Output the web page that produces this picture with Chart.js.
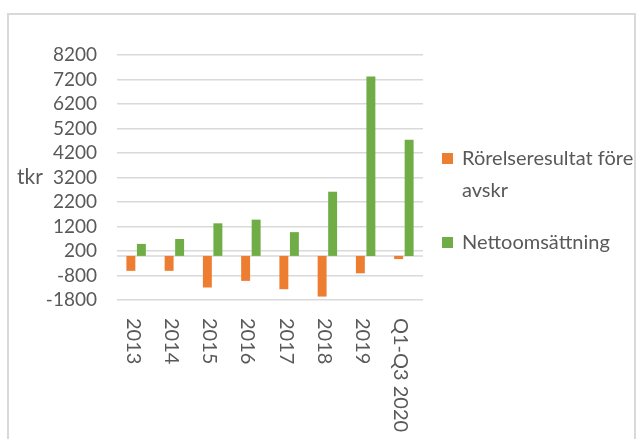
<!DOCTYPE html>
<html><head><meta charset="utf-8">
<script src="https://cdn.jsdelivr.net/npm/chart.js@4.4.1/dist/chart.umd.min.js"></script>
<style>
html,body{margin:0;padding:0;background:#fff;overflow:hidden;width:637px;height:439px}
#frame{position:absolute;left:7px;top:13px;width:629px;height:470px;border:2px solid #d9d9d9;box-sizing:border-box}
#c{position:absolute;left:0;top:0}
</style></head><body>
<div id="frame"></div>
<canvas id="c" width="637" height="439"></canvas>
<script>
// ---- data ----
const categories = ['2013', '2014', '2015', '2016', '2017', '2018', '2019', 'Q1-Q3 2020'];
const rorelseresultat = [-610, -610, -1290, -1020, -1360, -1660, -710, -130];
const nettoomsattning = [490, 690, 1330, 1480, 970, 2620, 7320, 4740];
const seriesNames = ['Rörelseresultat före avskr', 'Nettoomsättning'];
const seriesColors = ['#ED7D31', '#70AD47'];
const yMin = -1800, yMax = 8200, yStep = 1000;
const yAxisTitle = 'tkr';
const yTitleAtValue = 3200;

const TEXT = '#595959';
const GRID = '#d9d9d9';
const FONT = 'Lato, "Open Sans", sans-serif';

const extras = {
  id: 'extras',
  beforeDatasetsDraw(chart) {
    const {ctx, chartArea, scales: {y}} = chart;
    const y0 = y.getPixelForValue(0);
    ctx.save();
    ctx.strokeStyle = GRID; ctx.lineWidth = 1.5;
    ctx.beginPath(); ctx.moveTo(chartArea.left, y0); ctx.lineTo(chartArea.right, y0); ctx.stroke();
    ctx.restore();
  },
  afterDraw(chart) {
    const {ctx, chartArea, scales: {x, y}} = chart;
    ctx.save();
    ctx.fillStyle = TEXT;
    // y axis title
    ctx.font = '21px ' + FONT;
    ctx.textAlign = 'left'; ctx.textBaseline = 'middle';
    ctx.fillText(yAxisTitle, 17, y.getPixelForValue(yTitleAtValue));
    // x labels rotated clockwise
    ctx.font = '20px ' + FONT;
    categories.forEach((lab, i) => {
      const px = x.getPixelForValue(i);
      ctx.save();
      ctx.translate(px - 3, chartArea.bottom + 18);
      ctx.rotate(Math.PI / 2);
      ctx.textAlign = 'left'; ctx.textBaseline = 'middle';
      ctx.fillText(lab, 0, 0);
      ctx.restore();
    });
    // legend
    ctx.font = '20px ' + FONT;
    ctx.textAlign = 'left'; ctx.textBaseline = 'alphabetic';
    let base = 165;
    chart.data.datasets.forEach(ds => {
      ctx.fillStyle = ds.backgroundColor;
      ctx.fillRect(442, base - 12, 11, 11);
      ctx.fillStyle = TEXT;
      const words = ds.label.split(' ');
      const lines = []; let cur = '';
      words.forEach(w => {
        const t = cur ? cur + ' ' + w : w;
        if (ctx.measureText(t).width > 178 && cur) { lines.push(cur); cur = w; } else cur = t;
      });
      lines.push(cur);
      lines.forEach(l => { ctx.fillText(l, 462, base); base += 32; });
      base += 20;
    });
    ctx.restore();
  }
};

new Chart(document.getElementById('c'), {
  type: 'bar',
  data: {
    labels: categories,
    datasets: [
      {label: seriesNames[0], data: rorelseresultat, backgroundColor: seriesColors[0]},
      {label: seriesNames[1], data: nettoomsattning, backgroundColor: seriesColors[1]}
    ]
  },
  options: {
    responsive: false,
    animation: false,
    devicePixelRatio: 1,
    categoryPercentage: 0.55,
    barPercentage: 0.85,
    layout: {padding: {left: 0, right: 214, top: 55, bottom: 0}},
    plugins: {legend: {display: false}, tooltip: {enabled: false}},
    scales: {
      x: {
        grid: {display: false}, border: {display: false},
        ticks: {display: false},
        afterFit(s) { s.height = 139; }
      },
      y: {
        min: yMin, max: yMax,
        ticks: {
          stepSize: yStep, autoSkip: false, color: TEXT,
          font: {family: FONT, size: 19, lineHeight: 1},
          padding: 20,
          callback: v => String(v)
        },
        grid: {color: GRID, lineWidth: 1.5, drawTicks: false},
        border: {display: false},
        afterFit(s) { s.width = 117; }
      }
    }
  },
  plugins: [extras]
});
</script>
</body></html>
